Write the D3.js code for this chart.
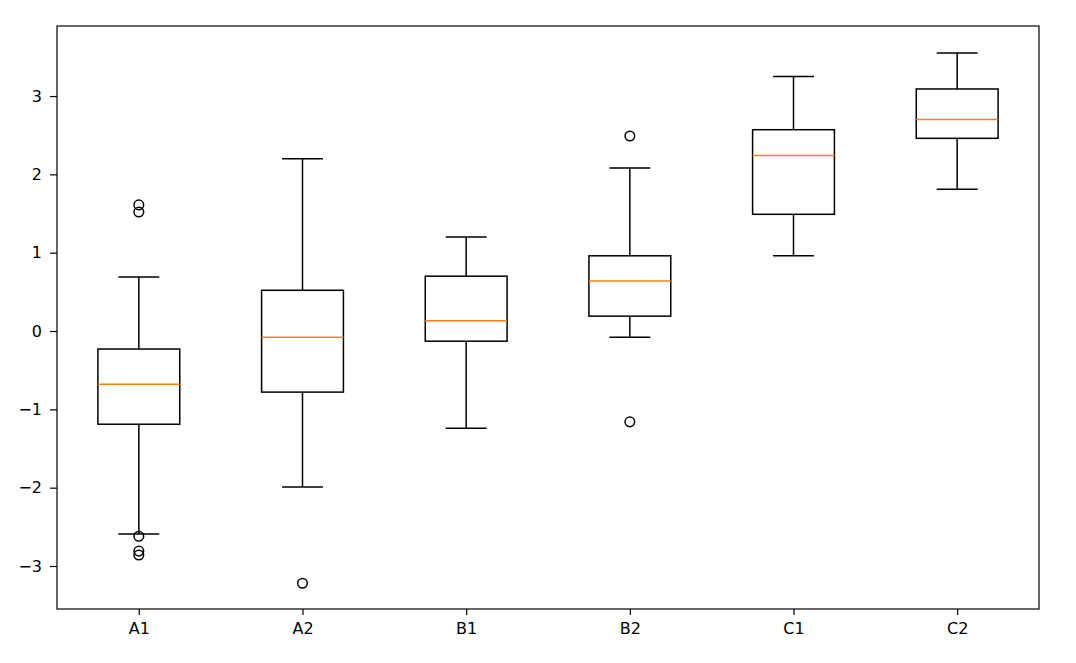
<!DOCTYPE html>
<html>
<head>
<meta charset="utf-8">
<script src="https://cdn.jsdelivr.net/npm/d3@7"></script>
<style>
body { margin: 0; background: #fff; }
svg { display: block; }
text { font-family: "DejaVu Sans", sans-serif; }
</style>
</head>
<body>
<svg id="chart" width="1076" height="663"></svg>
<script>
const categories = ["A1", "A2", "B1", "B2", "C1", "C2"];
const q1 = [-1.19, -0.78, -0.13, 0.19, 1.49, 2.46];
const medians = [-0.68, -0.08, 0.13, 0.64, 2.24, 2.70];
const q3 = [-0.23, 0.52, 0.70, 0.96, 2.57, 3.09];
const whiskerLow = [-2.59, -1.99, -1.24, -0.08, 0.96, 1.81];
const whiskerHigh = [0.69, 2.20, 1.20, 2.08, 3.25, 3.55];
const outliers = [
  [1.61, 1.52, -2.62, -2.81, -2.86],
  [-3.22],
  [],
  [2.49, -1.16],
  [],
  []
];
const yTicks = [-3, -2, -1, 0, 1, 2, 3];

const margin = { left: 57, top: 26, right: 1076 - 1039, bottom: 663 - 609 };
const W = 1076, H = 663;
const svg = d3.select("#chart");

const x = d3.scaleLinear().domain([0.5, 6.5]).range([margin.left, W - margin.right]);
const y = d3.scaleLinear().domain([-3.549, 3.894]).range([H - margin.bottom, margin.top]);

const lw = 1.5;
const g = svg.append("g");

categories.forEach((c, i) => {
  const cx = x(i + 1);
  const bw = x(1.25) - x(1);   // half box width (0.25 units)
  const cw = x(1.125) - x(1);  // half cap width
  g.append("line").attr("x1", cx).attr("x2", cx).attr("y1", y(q3[i])).attr("y2", y(whiskerHigh[i]))
    .attr("stroke", "#000").attr("stroke-width", lw);
  g.append("line").attr("x1", cx).attr("x2", cx).attr("y1", y(q1[i])).attr("y2", y(whiskerLow[i]))
    .attr("stroke", "#000").attr("stroke-width", lw);
  g.append("line").attr("x1", cx - cw).attr("x2", cx + cw).attr("y1", y(whiskerHigh[i])).attr("y2", y(whiskerHigh[i]))
    .attr("stroke", "#000").attr("stroke-width", lw);
  g.append("line").attr("x1", cx - cw).attr("x2", cx + cw).attr("y1", y(whiskerLow[i])).attr("y2", y(whiskerLow[i]))
    .attr("stroke", "#000").attr("stroke-width", lw);
  g.append("rect").attr("x", cx - bw).attr("width", 2 * bw)
    .attr("y", y(q3[i])).attr("height", y(q1[i]) - y(q3[i]))
    .attr("fill", "none").attr("stroke", "#000").attr("stroke-width", lw);
  g.append("line").attr("x1", cx - bw).attr("x2", cx + bw).attr("y1", y(medians[i])).attr("y2", y(medians[i]))
    .attr("stroke", "#ff7f0e").attr("stroke-width", lw);
  outliers[i].forEach(v => {
    g.append("circle").attr("cx", cx).attr("cy", y(v)).attr("r", 4.8)
      .attr("fill", "none").attr("stroke", "#000").attr("stroke-width", lw);
  });
});

const xAxis = d3.axisBottom(x).tickValues(d3.range(1, 7)).tickFormat((d) => categories[d - 1])
  .tickSize(6).tickPadding(8);
const yAxis = d3.axisLeft(y).tickValues(yTicks).tickFormat(d => d < 0 ? "\u2212" + Math.abs(d) : String(d))
  .tickSize(7).tickPadding(8);

const gx = svg.append("g").attr("transform", `translate(0,${H - margin.bottom})`).call(xAxis);
const gy = svg.append("g").attr("transform", `translate(${margin.left},0)`).call(yAxis);
[gx, gy].forEach(a => {
  a.select(".domain").remove();
  a.selectAll(".tick line").attr("stroke", "#000").attr("stroke-width", 1.2);
  a.selectAll(".tick text").attr("fill", "#000").style("font-size", "16px").style("font-family", "DejaVu Sans, sans-serif");
});

svg.append("rect").attr("x", margin.left).attr("y", margin.top)
  .attr("width", W - margin.left - margin.right).attr("height", H - margin.top - margin.bottom)
  .attr("fill", "none").attr("stroke", "#000").attr("stroke-width", 1.2);
</script>
</body>
</html>
